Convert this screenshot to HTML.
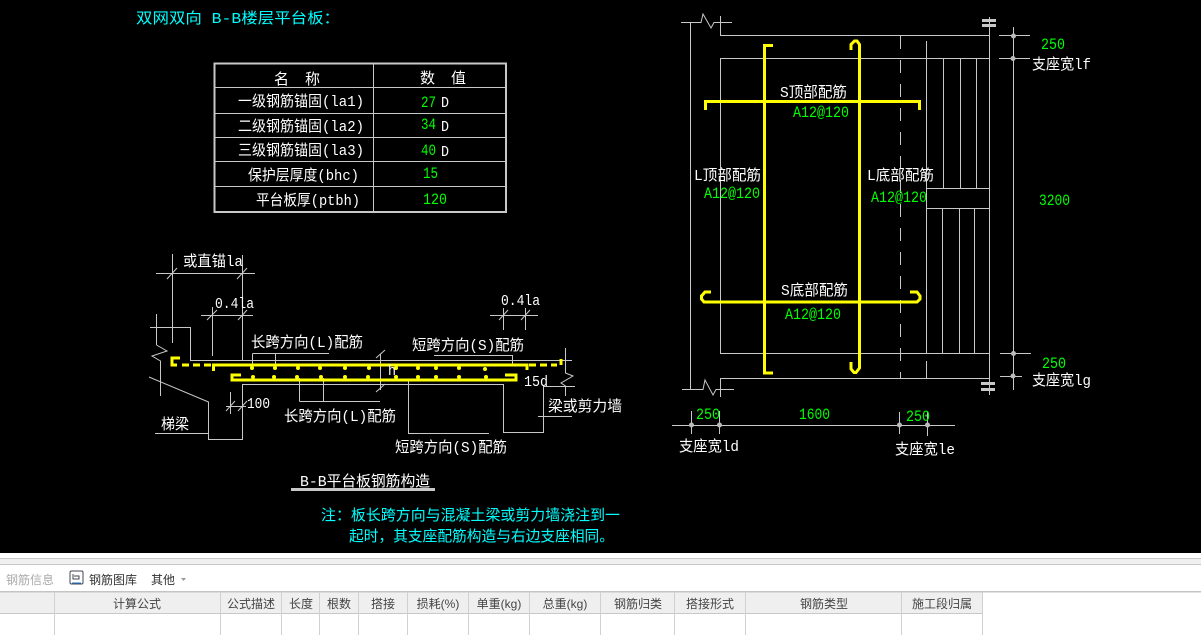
<!DOCTYPE html>
<html><head><meta charset="utf-8"><style>
html,body{margin:0;padding:0;background:#000;width:1201px;height:635px;overflow:hidden}
svg{display:block}
text{font-family:"Liberation Mono","WenQuanYi Zen Hei","Noto Sans CJK SC",monospace;font-size:15px;fill:#fff;white-space:pre}
.g{fill:#0f0;font-size:16px}
.c{fill:#0ff}
.l{stroke:#c8c8c8;stroke-width:1;fill:none;shape-rendering:crispEdges}
.y{stroke:#ff0;stroke-width:3;fill:none}
.u{font-family:"Liberation Sans","Noto Sans CJK SC",sans-serif;font-size:12px;fill:#444;text-anchor:middle}
</style></head><body>
<svg width="1201" height="635" viewBox="0 0 1201 635" xmlns="http://www.w3.org/2000/svg">
<rect width="1201" height="635" fill="#000"/>
<text class="c" x="136" y="23" textLength="204" lengthAdjust="spacingAndGlyphs">双网双向 B-B楼层平台板：</text>

<!-- table -->
<rect x="214.5" y="63.5" width="291.5" height="148.5" fill="none" stroke="#c8c8c8" stroke-width="2"/>
<path class="l" d="M373.5 63V212M214 87.5H506M214 113.5H506M214 137.5H506M214 161.5H506M214 186.5H506"/>
<text x="274" y="84">名</text><text x="305" y="84">称</text>
<text x="420" y="83">数</text><text x="451" y="83">值</text>
<text x="238" y="106" textLength="126" lengthAdjust="spacingAndGlyphs">一级钢筋锚固(la1)</text>
<text x="238" y="131" textLength="126" lengthAdjust="spacingAndGlyphs">二级钢筋锚固(la2)</text>
<text x="238" y="155" textLength="126" lengthAdjust="spacingAndGlyphs">三级钢筋锚固(la3)</text>
<text x="248" y="180" textLength="111" lengthAdjust="spacingAndGlyphs">保护层厚度(bhc)</text>
<text x="256" y="205" textLength="104" lengthAdjust="spacingAndGlyphs">平台板厚(ptbh)</text>
<text class="g" x="421" y="107" textLength="15" lengthAdjust="spacingAndGlyphs">27</text><text x="441" y="107" textLength="8" lengthAdjust="spacingAndGlyphs">D</text>
<text class="g" x="421" y="129" textLength="15" lengthAdjust="spacingAndGlyphs">34</text><text x="441" y="131" textLength="8" lengthAdjust="spacingAndGlyphs">D</text>
<text class="g" x="421" y="155" textLength="15" lengthAdjust="spacingAndGlyphs">40</text><text x="441" y="156" textLength="8" lengthAdjust="spacingAndGlyphs">D</text>
<text class="g" x="423" y="178" textLength="15" lengthAdjust="spacingAndGlyphs">15</text>
<text class="g" x="423" y="204" textLength="24" lengthAdjust="spacingAndGlyphs">120</text>

<!-- section lines -->
<path class="l" d="M156 273.5H255M172.5 254V343M242.5 255V360M201 315.5H253M212.5 307V356M150 327.5H190.5V360.5H572"/>
<path class="l" d="M156.5 314V345" />
<path d="M156.5 345L167 351L152 356L160.5 361V396M149 377L208.5 402V439.5H242.5V384.5H503.5V432.5H543.5V386.5H575M155 433.5H208.5M252.5 353.5H329M252.5 353.5V366M275.5 353.5V366M299.5 378V401.5M323.5 378V401.5M299.5 401.5H380M380.5 354V390M230.5 392V414M226 406.5H246M434 355.5H513M512.5 355.5V365M408.5 380V433.5H489M565.5 348V373L573 376L561 383L565.5 386V396M538 416.5H572M490 315.5H538M503.5 308V330M525.5 308V330" fill="none" stroke="#c8c8c8" stroke-width="1"/>
<path d="M167 279L177 268M237 279L247 268M207 320L217 310M238 320L247 310M376 358L385 350M376 392L385 384M226 411L235 401M238 411L247 401M499 320L508 310M521 320L530 310" stroke="#c8c8c8" stroke-width="1" fill="none"/>

<!-- section rebar -->
<path class="y" d="M212 365H527V370"/>
<path class="y" d="M180 358H172V365H177"/>
<path class="y" d="M182 365H212" stroke-dasharray="7 4"/>
<path class="y" d="M529 365H557" stroke-dasharray="7 4"/>
<path class="y" d="M561 359V365"/>
<path class="y" d="M213.5 365V371"/>
<path class="y" d="M241 375H232V380H516V375H505"/>
<g fill="#ff0">
<circle cx="252" cy="368" r="2"/><circle cx="275" cy="368" r="2"/><circle cx="298" cy="368" r="2"/><circle cx="320" cy="368" r="2"/><circle cx="345" cy="368" r="2"/><circle cx="369" cy="368" r="2"/><circle cx="396" cy="368" r="2"/><circle cx="418" cy="368" r="2"/><circle cx="436" cy="368" r="2"/><circle cx="459" cy="368" r="2"/><circle cx="485" cy="369" r="2"/>
<circle cx="253" cy="377" r="2"/><circle cx="274" cy="377" r="2"/><circle cx="297" cy="377" r="2"/><circle cx="321" cy="377" r="2"/><circle cx="345" cy="377" r="2"/><circle cx="368" cy="377" r="2"/><circle cx="396" cy="377" r="2"/><circle cx="418" cy="377" r="2"/><circle cx="436" cy="377" r="2"/><circle cx="459" cy="377" r="2"/><circle cx="486" cy="377" r="2"/>
</g>

<!-- section text -->
<text x="183" y="266" textLength="60" lengthAdjust="spacingAndGlyphs">或直锚la</text>
<text x="215" y="308" textLength="39" lengthAdjust="spacingAndGlyphs">0.4la</text>
<text x="251" y="347" textLength="112" lengthAdjust="spacingAndGlyphs">长跨方向(L)配筋</text>
<text x="284" y="421" textLength="112" lengthAdjust="spacingAndGlyphs">长跨方向(L)配筋</text>
<text x="247" y="408" textLength="23" lengthAdjust="spacingAndGlyphs">100</text>
<text x="161" y="429" textLength="28" lengthAdjust="spacingAndGlyphs">梯梁</text>
<text x="501" y="305" textLength="39" lengthAdjust="spacingAndGlyphs">0.4la</text>
<text x="412" y="350" textLength="112" lengthAdjust="spacingAndGlyphs">短跨方向(S)配筋</text>
<text x="395" y="452" textLength="112" lengthAdjust="spacingAndGlyphs">短跨方向(S)配筋</text>
<text x="524" y="386" textLength="24" lengthAdjust="spacingAndGlyphs">15d</text>
<text x="548" y="411" textLength="74" lengthAdjust="spacingAndGlyphs">梁或剪力墙</text>
<text x="388" y="375" textLength="8" lengthAdjust="spacingAndGlyphs">h</text>
<text x="300" y="486" textLength="130" lengthAdjust="spacingAndGlyphs">B-B平台板钢筋构造</text>
<rect x="291" y="488" width="144" height="3" fill="#c8c8c8"/>
<text class="c" x="321" y="520" textLength="299" lengthAdjust="spacingAndGlyphs">注：板长跨方向与混凝土梁或剪力墙浇注到一</text>
<text class="c" x="349" y="541" textLength="265" lengthAdjust="spacingAndGlyphs">起时，其支座配筋构造与右边支座相同。</text>

<!-- plan -->
<path d="M681 22.5H701L703 14L711 28L714 22.5H732M682 389.5H703L705 380L713 395L716 389.5H734" fill="none" stroke="#c8c8c8" stroke-width="1"/>
<path class="l" d="M690.5 22V389M720.5 16V35.5H989M720.5 58.5H989M720.5 58V353.5H989M720.5 378.5H989M720.5 378V397M989.5 17V395M926.5 41V353M926.5 361V378M926 188.5H989M926 208.5H989M943.5 58V188M960.5 58V188M976.5 58V188M942.5 208V353M959.5 208V353M974.5 208V353"/>
<path d="M900.5 36V378" stroke="#c8c8c8" stroke-width="1" stroke-dasharray="13 11" fill="none" shape-rendering="crispEdges"/>
<g fill="#c8c8c8"><rect x="982" y="19" width="14" height="3"/><rect x="982" y="24" width="14" height="3"/><rect x="981" y="382" width="14" height="3"/><rect x="981" y="388" width="14" height="3"/></g>
<path class="l" d="M1013.5 27V390M999 35.5H1030M999 58.5H1030M1000 353.5H1031M1000 376.5H1022M672 425.5H955M691.5 411V434M719.5 411V434M899.5 412V434M927.5 412V436"/>
<g fill="#bbb"><circle cx="1013.5" cy="36" r="2.5"/><circle cx="1013" cy="58.5" r="2.5"/><circle cx="1013.5" cy="353.5" r="2.5"/><circle cx="1013" cy="376" r="2.5"/><circle cx="691.5" cy="425" r="2.5"/><circle cx="719.5" cy="425" r="2.5"/><circle cx="899.5" cy="425" r="2.5"/><circle cx="927.5" cy="425" r="2.5"/></g>

<path class="y" d="M773 45.5H764.5V373H773"/>
<path class="y" d="M851 50V44.5L854.5 41H857L859.5 44.5V368L856 372.5H854L851 369V362"/>
<path class="y" d="M705.5 110V101.5H919.5V110"/>
<path class="y" d="M711 292H705L701.5 296V299L704 302H917L920 299V296L917 292H910"/>

<text class="g" x="1041" y="49" textLength="24" lengthAdjust="spacingAndGlyphs">250</text>
<text x="1032" y="69" textLength="59" lengthAdjust="spacingAndGlyphs">支座宽lf</text>
<text x="780" y="97" textLength="67" lengthAdjust="spacingAndGlyphs">S顶部配筋</text>
<text class="g" x="793" y="117" textLength="56" lengthAdjust="spacingAndGlyphs">A12@120</text>
<text x="694" y="180" textLength="67" lengthAdjust="spacingAndGlyphs">L顶部配筋</text>
<text class="g" x="704" y="198" textLength="56" lengthAdjust="spacingAndGlyphs">A12@120</text>
<text x="867" y="180" textLength="67" lengthAdjust="spacingAndGlyphs">L底部配筋</text>
<text class="g" x="871" y="202" textLength="56" lengthAdjust="spacingAndGlyphs">A12@120</text>
<text class="g" x="1039" y="205" textLength="31" lengthAdjust="spacingAndGlyphs">3200</text>
<text x="781" y="295" textLength="67" lengthAdjust="spacingAndGlyphs">S底部配筋</text>
<text class="g" x="785" y="319" textLength="56" lengthAdjust="spacingAndGlyphs">A12@120</text>
<text class="g" x="1042" y="368" textLength="24" lengthAdjust="spacingAndGlyphs">250</text>
<text x="1032" y="385" textLength="59" lengthAdjust="spacingAndGlyphs">支座宽lg</text>
<text class="g" x="696" y="419" textLength="24" lengthAdjust="spacingAndGlyphs">250</text>
<text class="g" x="799" y="419" textLength="31" lengthAdjust="spacingAndGlyphs">1600</text>
<text class="g" x="906" y="421" textLength="24" lengthAdjust="spacingAndGlyphs">250</text>
<text x="679" y="451" textLength="60" lengthAdjust="spacingAndGlyphs">支座宽ld</text>
<text x="895" y="454" textLength="60" lengthAdjust="spacingAndGlyphs">支座宽le</text>

<!-- bottom UI -->
<rect x="0" y="553" width="1201" height="82" fill="#fff"/>
<rect x="0" y="558" width="1201" height="7" fill="#f0f0f0"/>
<rect x="0" y="558" width="1201" height="1" fill="#c8c8c8"/>
<rect x="0" y="564" width="1201" height="1" fill="#c8c8c8"/>
<rect x="0" y="592" width="982" height="22" fill="#efefef"/>
<rect x="0" y="591" width="1201" height="1.5" fill="#c4c4c4"/>
<rect x="0" y="613" width="982" height="1" fill="#c8c8c8"/>
<path d="M54.5 592V635M220.5 592V635M281.5 592V635M319.5 592V635M358.5 592V635M407.5 592V635M468.5 592V635M529.5 592V635M600.5 592V635M674.5 592V635M745.5 592V635M901.5 592V635M982.5 592V635" stroke="#d0d0d0" fill="none" shape-rendering="crispEdges"/>
<text class="u" x="30" y="584" style="fill:#aaa">钢筋信息</text>
<rect x="70" y="571" width="13" height="13" rx="1.5" fill="none" stroke="#445" stroke-width="1"/>
<path d="M72 583H81" stroke="#27c" stroke-width="1"/>
<path d="M73 574V579H79V576H74" fill="none" stroke="#445" stroke-width="1"/>
<text class="u" x="113" y="584" style="fill:#333">钢筋图库</text>
<text class="u" x="163" y="584" style="fill:#333">其他</text>
<path d="M181 578H186L183.5 581Z" fill="#999"/>
<text class="u" x="137" y="608">计算公式</text>
<text class="u" x="251" y="608">公式描述</text>
<text class="u" x="301" y="608">长度</text>
<text class="u" x="339" y="608">根数</text>
<text class="u" x="383" y="608">搭接</text>
<text class="u" x="438" y="608">损耗(%)</text>
<text class="u" x="499" y="608">单重(kg)</text>
<text class="u" x="565" y="608">总重(kg)</text>
<text class="u" x="638" y="608">钢筋归类</text>
<text class="u" x="710" y="608">搭接形式</text>
<text class="u" x="824" y="608">钢筋类型</text>
<text class="u" x="942" y="608">施工段归属</text>
</svg>
</body></html>
